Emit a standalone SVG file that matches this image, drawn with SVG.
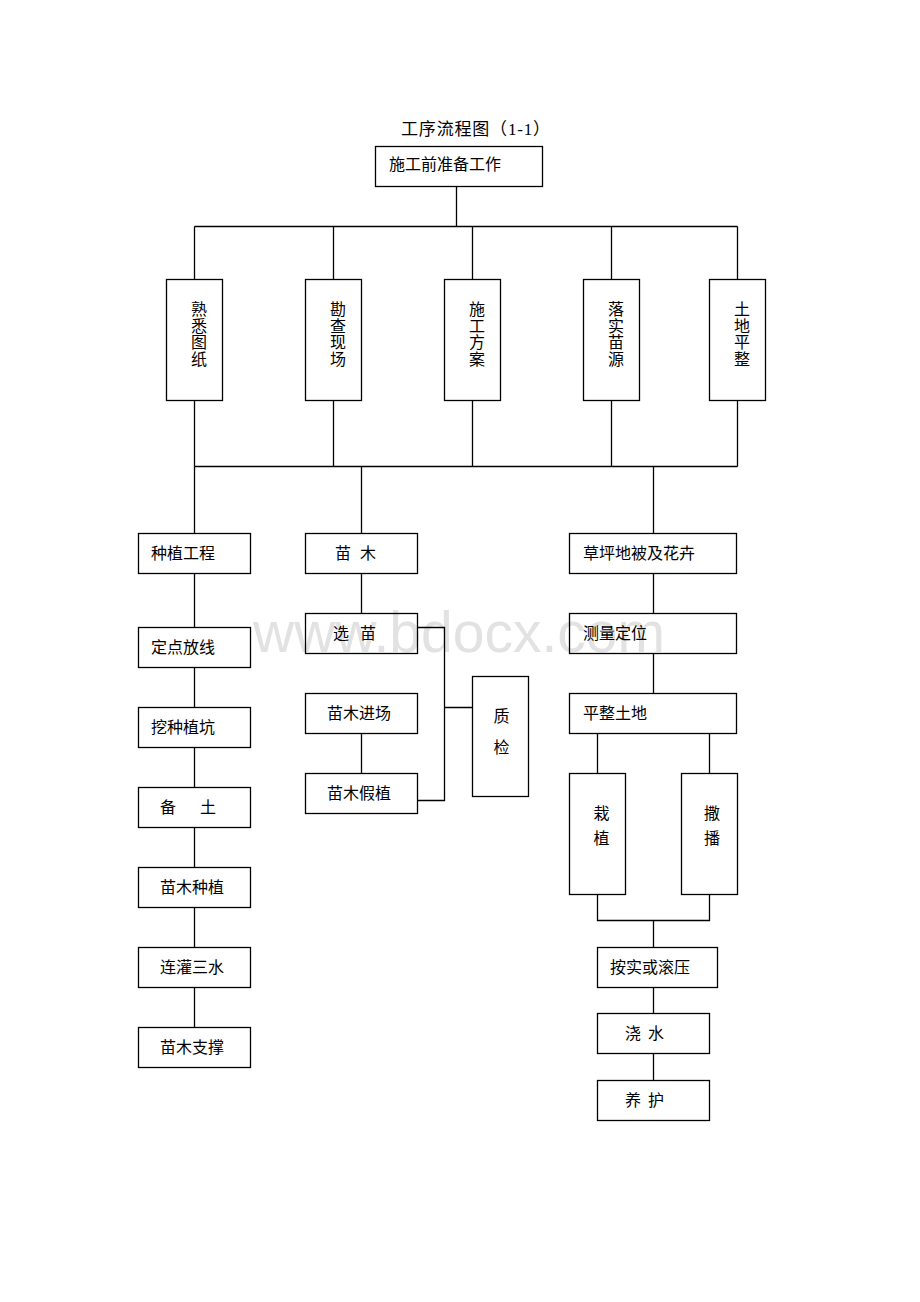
<svg xmlns="http://www.w3.org/2000/svg" width="920" height="1302" viewBox="0 0 920 1302">
<style>
.bg{fill:#fff}
.box{fill:none;stroke:#000;stroke-width:1.3}
.ln{fill:none;stroke:#000;stroke-width:1.3}
.t{font-family:"Liberation Serif","Noto Sans CJK SC",serif;font-size:16px;fill:#000}
.vt{font-family:"Liberation Serif","Noto Sans CJK SC",serif;font-size:16px;fill:#000;text-anchor:middle}
.title{font-family:"Liberation Serif","Noto Sans CJK SC",serif;font-size:17px;fill:#000}
.wm{font-family:"Liberation Sans",sans-serif;font-size:58px;fill:#e2e2e2}
</style>
<rect class="bg" x="0" y="0" width="920" height="1302"/>
<text class="wm" x="253" y="652" textLength="412" lengthAdjust="spacingAndGlyphs">www.bdocx.com</text>
<text id="title" class="title" x="401" y="135" textLength="149">工序流程图（1-1）</text>

<g id="connectors">
<path class="ln" d="M456.5 186.5V226.5M194.5 226.5H737.5M194.5 226.5V279.5M333.5 226.5V279.5M472.5 226.5V279.5M611.5 226.5V279.5M737.5 226.5V279.5"/>
<path class="ln" d="M194.5 400.5V466.5M333.5 400.5V466.5M472.5 400.5V466.5M611.5 400.5V466.5M737.5 400.5V466.5M194.5 466.5H737.5"/>
<path class="ln" d="M194.5 466.5V533.5M361.5 466.5V533.5M653.5 466.5V533.5"/>
<path class="ln" d="M194.5 573.5V627.5M194.5 667.5V707.5M194.5 747.5V787.5M194.5 827.5V867.5M194.5 907.5V947.5M194.5 987.5V1027.5"/>
<path class="ln" d="M361.5 573.5V613.5M361.5 733.5V773.5M417.5 627.5H444.5V800.5H417.5M444.5 707.5H472.5"/>
<path class="ln" d="M653.5 573.5V613.5M653.5 653.5V693.5M597.5 733.5V773.5M709.5 733.5V773.5M597.5 894.5V920.5H709.5V894.5M653.5 920.5V947.5M653.5 987.5V1013.5M653.5 1053.5V1080.5"/>
</g>

<g id="n-top"><rect class="box" x="375.5" y="146.5" width="167" height="40"/><text class="t" x="389" y="170">施工前准备工作</text></g>

<g id="n-v1"><rect class="box" x="166.5" y="279.5" width="56" height="121"/><text class="vt"><tspan x="199" y="315">熟</tspan><tspan x="199" y="332">悉</tspan><tspan x="199" y="348">图</tspan><tspan x="199" y="365">纸</tspan></text></g>
<g id="n-v2"><rect class="box" x="305.5" y="279.5" width="56" height="121"/><text class="vt"><tspan x="338" y="315">勘</tspan><tspan x="338" y="332">查</tspan><tspan x="338" y="348">现</tspan><tspan x="338" y="365">场</tspan></text></g>
<g id="n-v3"><rect class="box" x="444.5" y="279.5" width="56" height="121"/><text class="vt"><tspan x="477" y="315">施</tspan><tspan x="477" y="332">工</tspan><tspan x="477" y="348">方</tspan><tspan x="477" y="365">案</tspan></text></g>
<g id="n-v4"><rect class="box" x="583.5" y="279.5" width="56" height="121"/><text class="vt"><tspan x="616" y="315">落</tspan><tspan x="616" y="332">实</tspan><tspan x="616" y="348">苗</tspan><tspan x="616" y="365">源</tspan></text></g>
<g id="n-v5"><rect class="box" x="709.5" y="279.5" width="56" height="121"/><text class="vt"><tspan x="742" y="315">土</tspan><tspan x="742" y="332">地</tspan><tspan x="742" y="348">平</tspan><tspan x="742" y="365">整</tspan></text></g>

<g id="n-zhongzhi"><rect class="box" x="138.5" y="533.5" width="112" height="40"/><text class="t" x="151" y="558.5">种植工程</text></g>
<g id="n-dingdian"><rect class="box" x="138.5" y="627.5" width="112" height="40"/><text class="t" x="151" y="652.5">定点放线</text></g>
<g id="n-wakeng"><rect class="box" x="138.5" y="707.5" width="112" height="40"/><text class="t" x="151" y="732.5">挖种植坑</text></g>
<g id="n-beitu"><rect class="box" x="138.5" y="787.5" width="112" height="40"/><text class="t" y="812.5"><tspan x="160">备</tspan><tspan x="200">土</tspan></text></g>
<g id="n-zhongzhi2"><rect class="box" x="138.5" y="867.5" width="112" height="40"/><text class="t" x="160" y="892.5">苗木种植</text></g>
<g id="n-guan"><rect class="box" x="138.5" y="947.5" width="112" height="40"/><text class="t" x="160" y="972.5">连灌三水</text></g>
<g id="n-zhicheng"><rect class="box" x="138.5" y="1027.5" width="112" height="40"/><text class="t" x="160" y="1052.5">苗木支撑</text></g>

<g id="n-miaomu"><rect class="box" x="305.5" y="533.5" width="112" height="40"/><text class="t" y="558.5"><tspan x="335">苗</tspan><tspan x="360">木</tspan></text></g>
<g id="n-xuanmiao"><rect class="box" x="305.5" y="613.5" width="112" height="40"/><text class="t" y="638.5"><tspan x="333">选</tspan><tspan x="360">苗</tspan></text></g>
<g id="n-jinchang"><rect class="box" x="305.5" y="693.5" width="112" height="40"/><text class="t" x="327" y="718.5">苗木进场</text></g>
<g id="n-jiazhi"><rect class="box" x="305.5" y="773.5" width="112" height="40"/><text class="t" x="327" y="798.5">苗木假植</text></g>
<g id="n-zhijian"><rect class="box" x="472.5" y="676.5" width="56" height="120"/><text class="vt"><tspan x="501.5" y="721.5">质</tspan><tspan x="501.5" y="753">检</tspan></text></g>

<g id="n-caoping"><rect class="box" x="569.5" y="533.5" width="167" height="40"/><text class="t" x="583" y="558.5">草坪地被及花卉</text></g>
<g id="n-celiang"><rect class="box" x="569.5" y="613.5" width="167" height="40"/><text class="t" x="583" y="638.5">测量定位</text></g>
<g id="n-pingzheng"><rect class="box" x="569.5" y="693.5" width="167" height="40"/><text class="t" x="583" y="718.5">平整土地</text></g>
<g id="n-zaizhi"><rect class="box" x="569.5" y="773.5" width="56" height="121"/><text class="vt"><tspan x="601.5" y="818.5">栽</tspan><tspan x="601.5" y="843.5">植</tspan></text></g>
<g id="n-sabo"><rect class="box" x="681.5" y="773.5" width="56" height="121"/><text class="vt"><tspan x="712" y="818.5">撒</tspan><tspan x="712" y="843.5">播</tspan></text></g>
<g id="n-anshi"><rect class="box" x="597.5" y="947.5" width="120" height="40"/><text class="t" x="610" y="972.5">按实或滚压</text></g>
<g id="n-jiaoshui"><rect class="box" x="597.5" y="1013.5" width="112" height="40"/><text class="t" y="1038.5"><tspan x="625">浇</tspan><tspan x="648">水</tspan></text></g>
<g id="n-yanghu"><rect class="box" x="597.5" y="1080.5" width="112" height="40"/><text class="t" y="1105.5"><tspan x="625">养</tspan><tspan x="648">护</tspan></text></g>
</svg>
